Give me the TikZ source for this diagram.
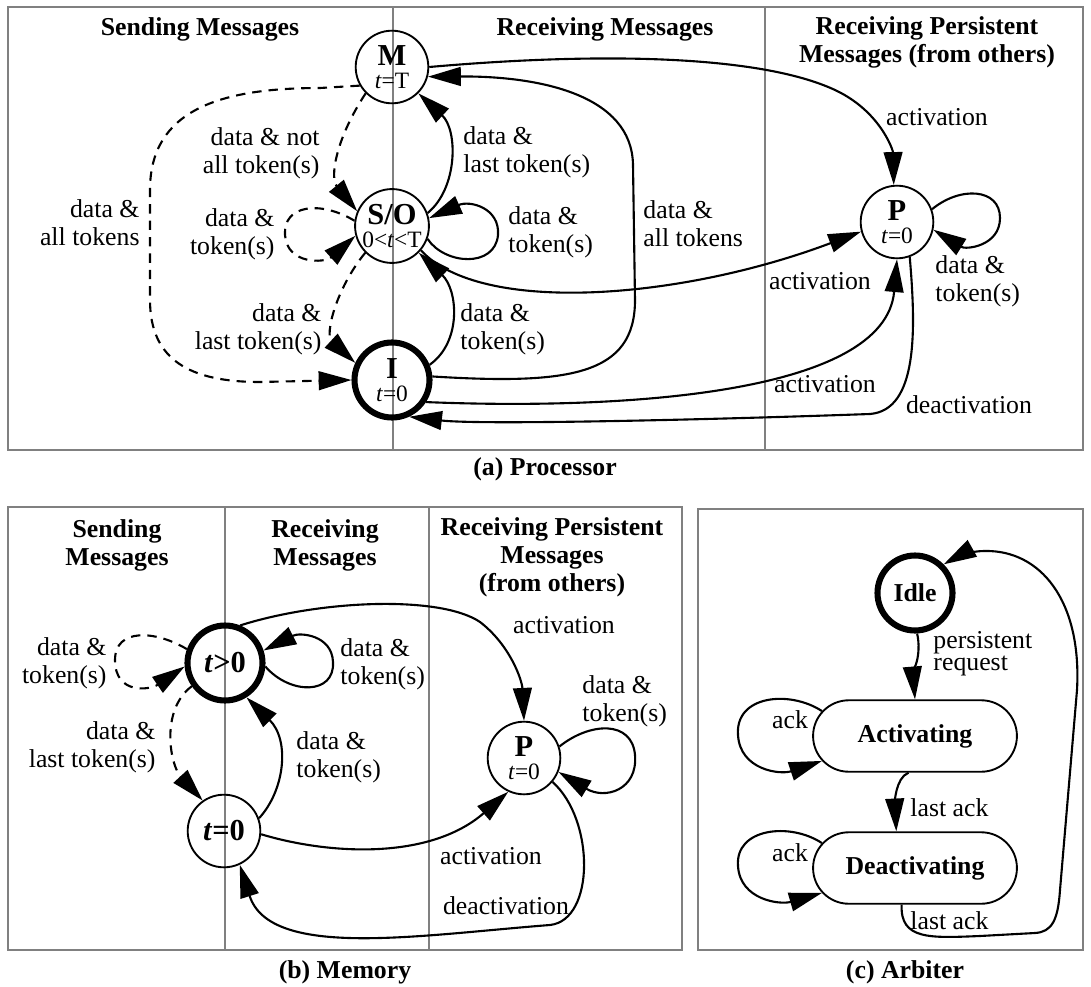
\documentclass[tikz,border=0pt]{standalone}
\usepackage{fontspec}
\setmainfont{Liberation Serif}
\usepackage{tikz}
\usetikzlibrary{arrows.meta, shapes.misc}

\begin{document}
\begin{tikzpicture}[x=0.015cm, y=-0.015cm,
  >={Triangle[length=14pt, width=8pt]},
  every node/.style={font=\fontsize{11}{12}\selectfont, inner sep=0pt},
  panel/.style={draw=black!50, line width=0.8pt},
  colhead/.style={font=\bfseries\fontsize{11}{12}\selectfont, align=center},
  state/.style={circle, draw, line width=0.8pt, minimum size=31pt, align=center},
  homestate/.style={state, line width=2.6pt, minimum size=32pt},
  mode/.style={rounded rectangle, draw, line width=0.8pt, minimum width=87pt, minimum height=30.5pt, font=\bfseries\fontsize{11}{12}\selectfont},
  trans/.style={->, line width=0.9pt},
  dtrans/.style={trans, dash pattern=on 4pt off 3pt}]
\useasboundingbox (0,0) rectangle (1091,987);

% (a) processor
\draw[panel] (8,7) -- ++(1075,0) -- ++(0,443) -- ++(-1075,0) -- cycle;
\draw[panel] (393,7) -- (393,450);
\draw[panel] (765,7) -- (765,450);
\node[colhead] (hs1) at (200,29) {Sending Messages};
\node[colhead] (hr1) at (605,29) {Receiving Messages};
\node[colhead] (hp1) at (927,42) {Receiving Persistent\\Messages (from others)};
\node[colhead] (capa) at (545,469) {(a) Processor};

\node[state] (M) at (392,67) {{\bfseries\fontsize{13}{13}\selectfont M}\\[-2pt]{\fontsize{10}{10}\selectfont\textit{t}=T}};
\node[state] (SO) at (392,226) {{\bfseries\fontsize{13}{13}\selectfont S/O}\\[-2pt]{\fontsize{10}{10}\selectfont 0<\textit{t}<T}};
\node[homestate] (I) at (392,380) {{\bfseries\fontsize{13}{13}\selectfont I}\\[-2pt]{\fontsize{10}{10}\selectfont\textit{t}=0}};
\node[state] (P) at (897,222) {{\bfseries\fontsize{13}{13}\selectfont P}\\[-2pt]{\fontsize{10}{10}\selectfont\textit{t}=0}};

\draw[trans] (M.east) .. controls (600,52) and (760,55) .. (835,90) .. controls (880,111) and (893,150) .. (P.95);
\node (la1) at (937,117) {activation};
\draw[trans] (I.5) .. controls (570,385) and (635,375) .. (635,300) -- (633,165) .. controls (632,95) and (540,76) .. (M.-15);
\node[align=left, anchor=west] (la2) at (643,224) {data \&\\all tokens};
\draw[trans] (SO.20) .. controls (458,188) and (458,130) .. (M.-45);
\node[align=left, anchor=west] (la3) at (463,152) {data \&\\last token(s)};
\draw[trans] (SO.-20) .. controls (445,265) and (495,268) .. (498,235) .. controls (500,208) and (470,200) .. (SO.12);
\node[align=left, anchor=west] (la4) at (508,232) {data \&\\token(s)};
\draw[trans] (SO.-40) .. controls (480,315) and (680,300) .. (P.195);
\node (la5) at (820,281) {activation};
\draw[trans] (I.22) .. controls (462,342) and (458,290) .. (SO.-45);
\node[align=left, anchor=west] (la6) at (460,329) {data \&\\token(s)};
\draw[trans] (I.-33) .. controls (620,410) and (885,395) .. (P.-90);
\node (la7) at (825,384) {activation};
\draw[trans] (P.-70) .. controls (916,330) and (918,410) .. (870,414) .. controls (700,420) and (480,425) .. (I.-65);
\node (la8) at (969,405) {deactivation};
\draw[trans] (P.20) .. controls (960,186) and (1000,188) .. (1000,218) .. controls (1000,246) and (966,250) .. (P.-12);
\node[align=left, anchor=west] (la9) at (935,281) {data \&\\token(s)};

\draw[dtrans] (M.-135) .. controls (335,140) and (330,178) .. (SO.157);
\node[align=right, anchor=east] (la10) at (320,153) {data \& not\\all token(s)};
\draw[dtrans] (M.210) -- (320,88) .. controls (220,88) and (150,110) .. (150,190) -- (150,300) .. controls (150,360) and (190,382) .. (260,382) -- (I.west);
\node[align=right, anchor=east] (la11) at (140,223) {data \&\\all tokens};
\draw[dtrans] (SO.172) .. controls (320,200) and (283,205) .. (285,235) .. controls (287,265) and (325,263) .. (SO.195);
\node[align=right, anchor=east] (la12) at (275,234) {data \&\\token(s)};
\draw[dtrans] (SO.-135) .. controls (335,290) and (325,335) .. (I.155);
\node[align=right, anchor=east] (la13) at (322,329) {data \&\\last token(s)};

% (b) memory
\draw[panel] (8,507) -- ++(674,0) -- ++(0,443) -- ++(-674,0) -- cycle;
\draw[panel] (225,507) -- (225,950);
\draw[panel] (429,507) -- (429,950);
\node[colhead] (hs2) at (117,545) {Sending\\Messages};
\node[colhead] (hr2) at (325,545) {Receiving\\Messages};
\node[colhead] (hp2) at (552,557) {Receiving Persistent\\Messages\\(from others)};
\node[colhead] (capb) at (345,972) {(b) Memory};

\node[homestate, font=\bfseries\fontsize{13}{13}\selectfont] (Tp) at (225,663) {\textit{t}>0};
\node[state, font=\bfseries\fontsize{13}{13}\selectfont] (Tz) at (224,831) {\textit{t}=0};
\node[state] (Pm) at (524,758) {{\bfseries\fontsize{13}{13}\selectfont P}\\[-2pt]{\fontsize{10}{10}\selectfont\textit{t}=0}};

\draw[trans] (Tp.68) .. controls (320,600) and (440,595) .. (480,622) .. controls (510,645) and (522,680) .. (Pm.north);
\node (lb1) at (564,625) {activation};
\draw[trans] (Tp.-5) .. controls (290,695) and (335,695) .. (333,662) .. controls (332,635) and (300,632) .. (Tp.18);
\node[align=left, anchor=west] (lb2) at (340,664) {data \&\\token(s)};
\draw[dtrans] (Tp.160) .. controls (155,630) and (115,628) .. (115,660) .. controls (115,695) and (150,690) .. (Tp.185);
\node[align=right, anchor=east] (lb3) at (107,663) {data \&\\token(s)};
\draw[dtrans] (Tp.-145) .. controls (160,710) and (170,765) .. (Tz.125);
\node[align=right, anchor=east] (lb4) at (156,747) {data \&\\last token(s)};
\draw[trans] (Tz.20) .. controls (285,790) and (290,740) .. (Tp.-58);
\node[align=left, anchor=west] (lb5) at (296,757) {data \&\\token(s)};
\draw[trans] (Tz.-5) .. controls (330,855) and (430,860) .. (Pm.-115);
\node (lb6) at (491,856) {activation};
\draw[trans] (Pm.-40) .. controls (595,820) and (595,920) .. (550,925) .. controls (420,935) and (270,960) .. (Tz.-65);
\node (lb7) at (506,906) {deactivation};
\draw[trans] (Pm.18) .. controls (590,722) and (632,720) .. (635,755) .. controls (638,790) and (605,800) .. (Pm.-22);
\node[align=left, anchor=west] (lb8) at (582,701) {data \&\\token(s)};

% (c) arbiter
\draw[panel] (698,509) -- ++(385,0) -- ++(0,441) -- ++(-385,0) -- cycle;
\node[colhead] (capc) at (905,972) {(c) Arbiter};

\node[homestate, font=\bfseries\fontsize{11}{12}\selectfont] (Idle) at (915,593) {Idle};
\node[mode] (Act) at (915,736) {Activating};
\node[mode] (Deact) at (915,868) {Deactivating};

\draw[trans] (Idle.-87) .. controls (922,655) and (913,675) .. (Act.north);
\node[align=left, anchor=west, font=\fontsize{11}{9.5}\selectfont] (lc1) at (933,654) {persistent\\request};
\draw[trans] (Act.165) .. controls (790,690) and (735,695) .. (738,735) .. controls (740,770) and (780,775) .. (Act.195);
\node (lc2) at (790,720) {ack};
\draw[trans] (Act.-100) .. controls (895,778) and (895,805) .. (Deact.117);
\node[anchor=west] (lc3) at (910,808) {last ack};
\draw[trans] (Deact.165) .. controls (790,822) and (735,828) .. (738,866) .. controls (740,900) and (780,905) .. (Deact.195);
\node (lc4) at (790,853) {ack};
\draw[trans] (Deact.-110) .. controls (900,940) and (930,938) .. (980,936) -- (1035,933) .. controls (1052,932) and (1058,920) .. (1060,890) -- (1077,690) .. controls (1082,600) and (1040,550) .. (985,551) .. controls (968,551) and (955,558) .. (Idle.45);
\node[anchor=west] (lc5) at (910,921) {last ack};
\end{tikzpicture}
\end{document}
